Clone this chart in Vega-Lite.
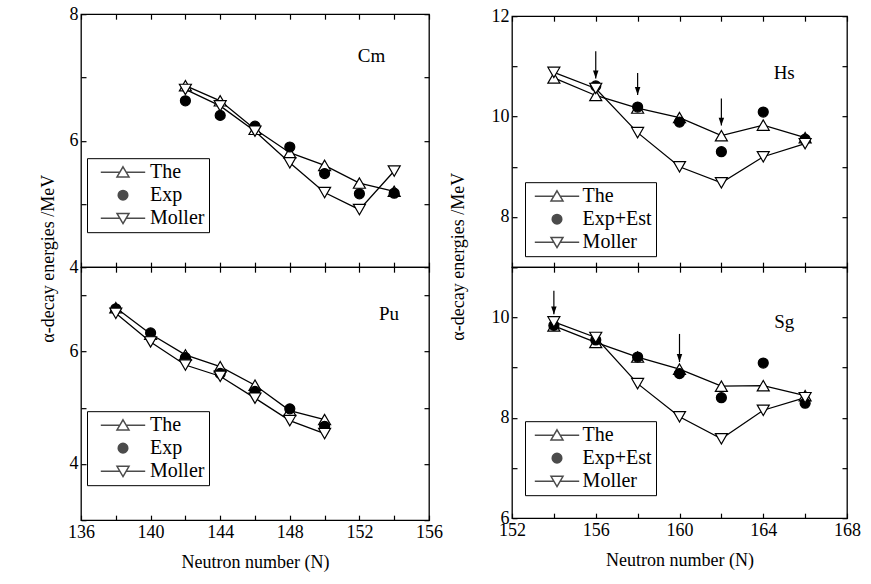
{
  "$schema": "https://vega.github.io/schema/vega-lite/v6.json",
  "padding": {"left": 38, "top": 4, "right": 5, "bottom": 5},
  "config": {
    "font": "Liberation Serif",
    "view": {"stroke": "black", "strokeWidth": 1.3},
    "axis": {"domain": false, "grid": false, "tickColor": "black", "tickSize": -5, "tickWidth": 1.2,
      "labelFont": "Liberation Serif", "labelFontSize": 18, "labelColor": "black",
      "titleFont": "Liberation Serif", "titleFontSize": 18, "titleFontWeight": "normal", "titleColor": "black",
      "labelFlush": false, "labelOverlap": false, "labelPadding": 8, "titlePadding": 12},
    "legend": {"labelFont": "Liberation Serif", "labelFontSize": 20, "labelColor": "black",
      "strokeColor": "black", "fillColor": "white", "padding": 4, "rowPadding": 3,
      "symbolSize": 144}
  },
  "datasets": {
    "cm": [
      {"N": 142, "E": 6.87, "series": "The"}, {"N": 144, "E": 6.63, "series": "The"}, {"N": 146, "E": 6.18, "series": "The"},
      {"N": 148, "E": 5.81, "series": "The"}, {"N": 150, "E": 5.61, "series": "The"}, {"N": 152, "E": 5.33, "series": "The"},
      {"N": 154, "E": 5.2, "series": "The"},
      {"N": 142, "E": 6.63, "series": "Exp"}, {"N": 144, "E": 6.4, "series": "Exp"}, {"N": 146, "E": 6.23, "series": "Exp"},
      {"N": 148, "E": 5.9, "series": "Exp"}, {"N": 150, "E": 5.48, "series": "Exp"}, {"N": 152, "E": 5.16, "series": "Exp"},
      {"N": 154, "E": 5.17, "series": "Exp"},
      {"N": 142, "E": 6.81, "series": "Moller"}, {"N": 144, "E": 6.55, "series": "Moller"}, {"N": 146, "E": 6.15, "series": "Moller"},
      {"N": 148, "E": 5.65, "series": "Moller"}, {"N": 150, "E": 5.18, "series": "Moller"}, {"N": 152, "E": 4.91, "series": "Moller"},
      {"N": 154, "E": 5.52, "series": "Moller"}
    ],
    "pu": [
      {"N": 138, "E": 6.78, "series": "The"}, {"N": 140, "E": 6.31, "series": "The"}, {"N": 142, "E": 5.94, "series": "The"},
      {"N": 144, "E": 5.73, "series": "The"}, {"N": 146, "E": 5.4, "series": "The"}, {"N": 148, "E": 4.95, "series": "The"},
      {"N": 150, "E": 4.79, "series": "The"},
      {"N": 138, "E": 6.76, "series": "Exp"}, {"N": 140, "E": 6.33, "series": "Exp"}, {"N": 142, "E": 5.89, "series": "Exp"},
      {"N": 144, "E": 5.61, "series": "Exp"}, {"N": 146, "E": 5.29, "series": "Exp"}, {"N": 148, "E": 4.98, "series": "Exp"},
      {"N": 150, "E": 4.67, "series": "Exp"},
      {"N": 138, "E": 6.68, "series": "Moller"}, {"N": 140, "E": 6.17, "series": "Moller"}, {"N": 142, "E": 5.76, "series": "Moller"},
      {"N": 144, "E": 5.56, "series": "Moller"}, {"N": 146, "E": 5.17, "series": "Moller"}, {"N": 148, "E": 4.77, "series": "Moller"},
      {"N": 150, "E": 4.54, "series": "Moller"}
    ],
    "hs": [
      {"N": 154, "E": 10.77, "series": "The"}, {"N": 156, "E": 10.42, "series": "The"}, {"N": 158, "E": 10.17, "series": "The"},
      {"N": 160, "E": 9.98, "series": "The"}, {"N": 162, "E": 9.62, "series": "The"}, {"N": 164, "E": 9.83, "series": "The"},
      {"N": 166, "E": 9.58, "series": "The"},
      {"N": 156, "E": 10.61, "series": "Exp+Est"}, {"N": 158, "E": 10.19, "series": "Exp+Est"},
      {"N": 160, "E": 9.89, "series": "Exp+Est"}, {"N": 162, "E": 9.3, "series": "Exp+Est"}, {"N": 164, "E": 10.09, "series": "Exp+Est"},
      {"N": 166, "E": 9.55, "series": "Exp+Est"},
      {"N": 154, "E": 10.88, "series": "Moller"}, {"N": 156, "E": 10.56, "series": "Moller"}, {"N": 158, "E": 9.68, "series": "Moller"},
      {"N": 160, "E": 9.0, "series": "Moller"}, {"N": 162, "E": 8.68, "series": "Moller"}, {"N": 164, "E": 9.2, "series": "Moller"},
      {"N": 166, "E": 9.46, "series": "Moller"}
    ],
    "sg": [
      {"N": 154, "E": 9.83, "series": "The"}, {"N": 156, "E": 9.5, "series": "The"}, {"N": 158, "E": 9.21, "series": "The"},
      {"N": 160, "E": 8.97, "series": "The"}, {"N": 162, "E": 8.63, "series": "The"}, {"N": 164, "E": 8.64, "series": "The"},
      {"N": 166, "E": 8.44, "series": "The"},
      {"N": 154, "E": 9.84, "series": "Exp+Est"}, {"N": 156, "E": 9.55, "series": "Exp+Est"}, {"N": 158, "E": 9.21, "series": "Exp+Est"},
      {"N": 160, "E": 8.88, "series": "Exp+Est"}, {"N": 162, "E": 8.4, "series": "Exp+Est"}, {"N": 164, "E": 9.09, "series": "Exp+Est"},
      {"N": 166, "E": 8.29, "series": "Exp+Est"},
      {"N": 154, "E": 9.91, "series": "Moller"}, {"N": 156, "E": 9.6, "series": "Moller"}, {"N": 158, "E": 8.68, "series": "Moller"},
      {"N": 160, "E": 8.02, "series": "Moller"}, {"N": 162, "E": 7.58, "series": "Moller"}, {"N": 164, "E": 8.15, "series": "Moller"},
      {"N": 166, "E": 8.4, "series": "Moller"}
    ],
    "hsArrows": [
      {"N": 156, "top": 11.3, "tip": 10.76}, {"N": 158, "top": 10.87, "tip": 10.43}, {"N": 162, "top": 10.36, "tip": 9.82}
    ],
    "sgArrows": [
      {"N": 154, "top": 10.53, "tip": 10.06}, {"N": 160, "top": 9.67, "tip": 9.11}
    ]
  },
  "spacing": 4,
  "center": true,
  "resolve": {"scale": {"shape": "independent", "fill": "independent"}, "legend": {"shape": "independent", "fill": "independent"}},
  "hconcat": [
    {
      "spacing": 0,
      "bounds": "flush",
      "resolve": {"scale": {"shape": "independent", "fill": "independent"}, "legend": {"shape": "independent", "fill": "independent"}},
      "vconcat": [
        {
          "width": 348, "height": 253,
          "data": {"name": "cm"},
          "resolve": {"axis": {"x": "independent", "y": "independent"}},
          "layer": [
            {
              "transform": [{"filter": "datum.series != 'Exp'"}],
              "mark": {"type": "line", "color": "black", "strokeWidth": 1.3},
              "encoding": {
                "x": {"field": "N", "type": "quantitative", "scale": {"domain": [136, 156], "nice": false, "zero": false},
                  "axis": {"orient": "bottom", "values": [136,138,140,142,144,146,148,150,152,154,156], "labels": false, "title": null}},
                "y": {"field": "E", "type": "quantitative", "scale": {"domain": [4, 8], "nice": false, "zero": false},
                  "axis": {"orient": "left", "values": [4,5,6,7,8], "labelExpr": "datum.value % 2 == 0 ? datum.label : ''",
                    "title": "α-decay energies /MeV", "titleY": 244}},
                "detail": {"field": "series"}
              }
            },
            {
              "mark": {"type": "point", "filled": true, "stroke": "black", "strokeWidth": 1.2, "opacity": 1},
              "encoding": {
                "x": {"field": "N", "type": "quantitative", "scale": {"domain": [136, 156], "nice": false, "zero": false},
                  "axis": {"orient": "top", "values": [136,138,140,142,144,146,148,150,152,154,156], "labels": false, "title": null}},
                "y": {"field": "E", "type": "quantitative", "scale": {"domain": [4, 8], "nice": false, "zero": false},
                  "axis": {"orient": "right", "values": [4,5,6,7,8], "labels": false, "title": null}},
                "shape": {"condition": [{"test": "datum.series == 'The'", "value": "triangle-up"}, {"test": "datum.series == 'Moller'", "value": "triangle-down"}], "value": "circle"},
                "fill": {"condition": {"test": "datum.series == 'Exp'", "value": "black"}, "value": "white"},
                "size": {"condition": {"test": "datum.series == 'Exp'", "value": 100}, "value": 144}
              }
            },
            {
              "transform": [{"filter": "false"}],
              "mark": {"type": "point", "filled": true, "stroke": "black", "strokeWidth": 1.2, "size": 144},
              "encoding": {
                "x": {"field": "N", "type": "quantitative", "axis": null},
                "y": {"field": "E", "type": "quantitative", "axis": null},
                "shape": {"field": "series", "type": "nominal",
                  "scale": {"domain": ["The", "Exp", "Moller"], "range": ["M-3.7,0L-0.55,0M0.55,0L3.7,0M0,-0.9L1,0.8L-1,0.8Z", "M0.8,0A0.8,0.8,0,1,1,-0.8,0A0.8,0.8,0,1,1,0.8,0Z", "M-3.7,0L-0.55,0M0.55,0L3.7,0M0,0.9L1,-0.8L-1,-0.8Z"]},
                  "legend": {"orient": "none", "legendX": 6, "legendY": 144, "title": null, "symbolOffset": 22, "labelOffset": 17, "symbolFillColor": "white",
                    "labelExpr": "datum.label + '\u00a0\u00a0\u00a0\u00a0\u00a0\u00a0'"}},
                "fill": {"field": "series", "type": "nominal",
                  "scale": {"domain": ["The", "Exp", "Moller"], "range": ["white", "black", "white"]},
                  "legend": {"orient": "none", "legendX": 6, "legendY": 144, "title": null, "symbolOffset": 22, "labelOffset": 17, "symbolFillColor": "white",
                    "labelExpr": "datum.label + '\u00a0\u00a0\u00a0\u00a0\u00a0\u00a0'"}}
              }
            },
            {
              "data": {"values": [{"N": 152.7, "E": 7.34, "label": "Cm"}]},
              "mark": {"type": "text", "font": "Liberation Serif", "fontSize": 19, "color": "black"},
              "encoding": {
                "x": {"field": "N", "type": "quantitative", "axis": null},
                "y": {"field": "E", "type": "quantitative", "axis": null},
                "text": {"field": "label"}
              }
            }
          ]
        },
        {
          "width": 348, "height": 253,
          "data": {"name": "pu"},
          "resolve": {"axis": {"x": "independent", "y": "independent"}},
          "layer": [
            {
              "transform": [{"filter": "datum.series != 'Exp'"}],
              "mark": {"type": "line", "color": "black", "strokeWidth": 1.3},
              "encoding": {
                "x": {"field": "N", "type": "quantitative", "scale": {"domain": [136, 156], "nice": false, "zero": false},
                  "axis": {"orient": "bottom", "values": [136,138,140,142,144,146,148,150,152,154,156], "labelExpr": "datum.value % 4 == 0 ? datum.label : ''",
                    "title": "Neutron number (N)"}},
                "y": {"field": "E", "type": "quantitative", "scale": {"domain": [3, 7.5], "nice": false, "zero": false},
                  "axis": {"orient": "left", "values": [3,4,5,6,7], "labelExpr": "datum.value % 2 == 0 ? datum.label : ''", "title": null}},
                "detail": {"field": "series"}
              }
            },
            {
              "mark": {"type": "point", "filled": true, "stroke": "black", "strokeWidth": 1.2, "opacity": 1},
              "encoding": {
                "x": {"field": "N", "type": "quantitative", "scale": {"domain": [136, 156], "nice": false, "zero": false},
                  "axis": {"orient": "top", "values": [136,138,140,142,144,146,148,150,152,154,156], "labels": false, "title": null}},
                "y": {"field": "E", "type": "quantitative", "scale": {"domain": [3, 7.5], "nice": false, "zero": false},
                  "axis": {"orient": "right", "values": [3,4,5,6,7], "labels": false, "title": null}},
                "shape": {"condition": [{"test": "datum.series == 'The'", "value": "triangle-up"}, {"test": "datum.series == 'Moller'", "value": "triangle-down"}], "value": "circle"},
                "fill": {"condition": {"test": "datum.series == 'Exp'", "value": "black"}, "value": "white"},
                "size": {"condition": {"test": "datum.series == 'Exp'", "value": 100}, "value": 144}
              }
            },
            {
              "transform": [{"filter": "false"}],
              "mark": {"type": "point", "filled": true, "stroke": "black", "strokeWidth": 1.2, "size": 144},
              "encoding": {
                "x": {"field": "N", "type": "quantitative", "axis": null},
                "y": {"field": "E", "type": "quantitative", "axis": null},
                "shape": {"field": "series", "type": "nominal",
                  "scale": {"domain": ["The", "Exp", "Moller"], "range": ["M-3.7,0L-0.55,0M0.55,0L3.7,0M0,-0.9L1,0.8L-1,0.8Z", "M0.8,0A0.8,0.8,0,1,1,-0.8,0A0.8,0.8,0,1,1,0.8,0Z", "M-3.7,0L-0.55,0M0.55,0L3.7,0M0,0.9L1,-0.8L-1,-0.8Z"]},
                  "legend": {"orient": "none", "legendX": 6, "legendY": 144, "title": null, "symbolOffset": 22, "labelOffset": 17, "symbolFillColor": "white",
                    "labelExpr": "datum.label + '\u00a0\u00a0\u00a0\u00a0\u00a0\u00a0'"}},
                "fill": {"field": "series", "type": "nominal",
                  "scale": {"domain": ["The", "Exp", "Moller"], "range": ["white", "black", "white"]},
                  "legend": {"orient": "none", "legendX": 6, "legendY": 144, "title": null, "symbolOffset": 22, "labelOffset": 17, "symbolFillColor": "white",
                    "labelExpr": "datum.label + '\u00a0\u00a0\u00a0\u00a0\u00a0\u00a0'"}}
              }
            },
            {
              "data": {"values": [{"N": 153.7, "E": 6.67, "label": "Pu"}]},
              "mark": {"type": "text", "font": "Liberation Serif", "fontSize": 19, "color": "black"},
              "encoding": {
                "x": {"field": "N", "type": "quantitative", "axis": null},
                "y": {"field": "E", "type": "quantitative", "axis": null},
                "text": {"field": "label"}
              }
            }
          ]
        }
      ]
    },
    {
      "spacing": 0,
      "bounds": "flush",
      "resolve": {"scale": {"shape": "independent", "fill": "independent"}, "legend": {"shape": "independent", "fill": "independent"}},
      "vconcat": [
        {
          "width": 335, "height": 251,
          "data": {"name": "hs"},
          "resolve": {"axis": {"x": "independent", "y": "independent"}},
          "layer": [
            {
              "transform": [{"filter": "datum.series != 'Exp+Est'"}],
              "mark": {"type": "line", "color": "black", "strokeWidth": 1.3},
              "encoding": {
                "x": {"field": "N", "type": "quantitative", "scale": {"domain": [152, 168], "nice": false, "zero": false},
                  "axis": {"orient": "bottom", "values": [152,154,156,158,160,162,164,166,168], "labels": false, "title": null}},
                "y": {"field": "E", "type": "quantitative", "scale": {"domain": [7, 12], "nice": false, "zero": false},
                  "axis": {"orient": "left", "values": [7,8,9,10,11,12], "labelExpr": "datum.value % 2 == 0 ? datum.label : ''",
                    "title": "α-decay energies /MeV", "titleY": 240, "titlePadding": 24}},
                "detail": {"field": "series"}
              }
            },
            {
              "data": {"name": "hsArrows"},
              "mark": {"type": "rule", "color": "black", "strokeWidth": 1.2},
              "encoding": {
                "x": {"field": "N", "type": "quantitative", "axis": null},
                "y": {"field": "top", "type": "quantitative", "axis": null},
                "y2": {"field": "tip"}
              }
            },
            {
              "data": {"name": "hsArrows"},
              "mark": {"type": "point", "filled": true, "color": "black", "opacity": 1, "size": 30, "shape": "M-1,-2.9L1,-2.9L0,0Z"},
              "encoding": {
                "x": {"field": "N", "type": "quantitative", "axis": null},
                "y": {"field": "tip", "type": "quantitative", "axis": null}
              }
            },
            {
              "mark": {"type": "point", "filled": true, "stroke": "black", "strokeWidth": 1.2, "opacity": 1},
              "encoding": {
                "x": {"field": "N", "type": "quantitative", "scale": {"domain": [152, 168], "nice": false, "zero": false},
                  "axis": {"orient": "top", "values": [152,154,156,158,160,162,164,166,168], "labels": false, "title": null}},
                "y": {"field": "E", "type": "quantitative", "scale": {"domain": [7, 12], "nice": false, "zero": false},
                  "axis": {"orient": "right", "values": [7,8,9,10,11,12], "labels": false, "title": null}},
                "shape": {"condition": [{"test": "datum.series == 'The'", "value": "triangle-up"}, {"test": "datum.series == 'Moller'", "value": "triangle-down"}], "value": "circle"},
                "fill": {"condition": {"test": "datum.series == 'Exp+Est'", "value": "black"}, "value": "white"},
                "size": {"condition": {"test": "datum.series == 'Exp+Est'", "value": 100}, "value": 144}
              }
            },
            {
              "transform": [{"filter": "false"}],
              "mark": {"type": "point", "filled": true, "stroke": "black", "strokeWidth": 1.2, "size": 144},
              "encoding": {
                "x": {"field": "N", "type": "quantitative", "axis": null},
                "y": {"field": "E", "type": "quantitative", "axis": null},
                "shape": {"field": "series", "type": "nominal",
                  "scale": {"domain": ["The", "Exp+Est", "Moller"], "range": ["M-3.7,0L-0.55,0M0.55,0L3.7,0M0,-0.9L1,0.8L-1,0.8Z", "M0.8,0A0.8,0.8,0,1,1,-0.8,0A0.8,0.8,0,1,1,0.8,0Z", "M-3.7,0L-0.55,0M0.55,0L3.7,0M0,0.9L1,-0.8L-1,-0.8Z"]},
                  "legend": {"orient": "none", "legendX": 13, "legendY": 166, "title": null, "symbolOffset": 18, "labelOffset": 15.6, "symbolFillColor": "white",
                    "labelExpr": "datum.label + '\u00a0'"}},
                "fill": {"field": "series", "type": "nominal",
                  "scale": {"domain": ["The", "Exp+Est", "Moller"], "range": ["white", "black", "white"]},
                  "legend": {"orient": "none", "legendX": 13, "legendY": 166, "title": null, "symbolOffset": 18, "labelOffset": 15.6, "symbolFillColor": "white",
                    "labelExpr": "datum.label + '\u00a0'"}}
              }
            },
            {
              "data": {"values": [{"N": 165.0, "E": 10.86, "label": "Hs"}]},
              "mark": {"type": "text", "font": "Liberation Serif", "fontSize": 19, "color": "black"},
              "encoding": {
                "x": {"field": "N", "type": "quantitative", "axis": null},
                "y": {"field": "E", "type": "quantitative", "axis": null},
                "text": {"field": "label"}
              }
            }
          ]
        },
        {
          "width": 335, "height": 251,
          "data": {"name": "sg"},
          "resolve": {"axis": {"x": "independent", "y": "independent"}},
          "layer": [
            {
              "transform": [{"filter": "datum.series != 'Exp+Est'"}],
              "mark": {"type": "line", "color": "black", "strokeWidth": 1.3},
              "encoding": {
                "x": {"field": "N", "type": "quantitative", "scale": {"domain": [152, 168], "nice": false, "zero": false},
                  "axis": {"orient": "bottom", "values": [152,154,156,158,160,162,164,166,168], "labelExpr": "datum.value % 4 == 0 ? datum.label : ''",
                    "title": "Neutron number (N)"}},
                "y": {"field": "E", "type": "quantitative", "scale": {"domain": [6, 11], "nice": false, "zero": false},
                  "axis": {"orient": "left", "values": [6,7,8,9,10,11], "labelExpr": "datum.value % 2 == 0 ? datum.label : ''", "title": null}},
                "detail": {"field": "series"}
              }
            },
            {
              "data": {"name": "sgArrows"},
              "mark": {"type": "rule", "color": "black", "strokeWidth": 1.2},
              "encoding": {
                "x": {"field": "N", "type": "quantitative", "axis": null},
                "y": {"field": "top", "type": "quantitative", "axis": null},
                "y2": {"field": "tip"}
              }
            },
            {
              "data": {"name": "sgArrows"},
              "mark": {"type": "point", "filled": true, "color": "black", "opacity": 1, "size": 30, "shape": "M-1,-2.9L1,-2.9L0,0Z"},
              "encoding": {
                "x": {"field": "N", "type": "quantitative", "axis": null},
                "y": {"field": "tip", "type": "quantitative", "axis": null}
              }
            },
            {
              "mark": {"type": "point", "filled": true, "stroke": "black", "strokeWidth": 1.2, "opacity": 1},
              "encoding": {
                "x": {"field": "N", "type": "quantitative", "scale": {"domain": [152, 168], "nice": false, "zero": false},
                  "axis": {"orient": "top", "values": [152,154,156,158,160,162,164,166,168], "labels": false, "title": null}},
                "y": {"field": "E", "type": "quantitative", "scale": {"domain": [6, 11], "nice": false, "zero": false},
                  "axis": {"orient": "right", "values": [6,7,8,9,10,11], "labels": false, "title": null}},
                "shape": {"condition": [{"test": "datum.series == 'The'", "value": "triangle-up"}, {"test": "datum.series == 'Moller'", "value": "triangle-down"}], "value": "circle"},
                "fill": {"condition": {"test": "datum.series == 'Exp+Est'", "value": "black"}, "value": "white"},
                "size": {"condition": {"test": "datum.series == 'Exp+Est'", "value": 100}, "value": 144}
              }
            },
            {
              "transform": [{"filter": "false"}],
              "mark": {"type": "point", "filled": true, "stroke": "black", "strokeWidth": 1.2, "size": 144},
              "encoding": {
                "x": {"field": "N", "type": "quantitative", "axis": null},
                "y": {"field": "E", "type": "quantitative", "axis": null},
                "shape": {"field": "series", "type": "nominal",
                  "scale": {"domain": ["The", "Exp+Est", "Moller"], "range": ["M-3.7,0L-0.55,0M0.55,0L3.7,0M0,-0.9L1,0.8L-1,0.8Z", "M0.8,0A0.8,0.8,0,1,1,-0.8,0A0.8,0.8,0,1,1,0.8,0Z", "M-3.7,0L-0.55,0M0.55,0L3.7,0M0,0.9L1,-0.8L-1,-0.8Z"]},
                  "legend": {"orient": "none", "legendX": 13, "legendY": 154, "title": null, "symbolOffset": 18, "labelOffset": 15.6, "symbolFillColor": "white",
                    "labelExpr": "datum.label + '\u00a0'"}},
                "fill": {"field": "series", "type": "nominal",
                  "scale": {"domain": ["The", "Exp+Est", "Moller"], "range": ["white", "black", "white"]},
                  "legend": {"orient": "none", "legendX": 13, "legendY": 154, "title": null, "symbolOffset": 18, "labelOffset": 15.6, "symbolFillColor": "white",
                    "labelExpr": "datum.label + '\u00a0'"}}
              }
            },
            {
              "data": {"values": [{"N": 165.0, "E": 9.91, "label": "Sg"}]},
              "mark": {"type": "text", "font": "Liberation Serif", "fontSize": 19, "color": "black"},
              "encoding": {
                "x": {"field": "N", "type": "quantitative", "axis": null},
                "y": {"field": "E", "type": "quantitative", "axis": null},
                "text": {"field": "label"}
              }
            }
          ]
        }
      ]
    }
  ]
}
